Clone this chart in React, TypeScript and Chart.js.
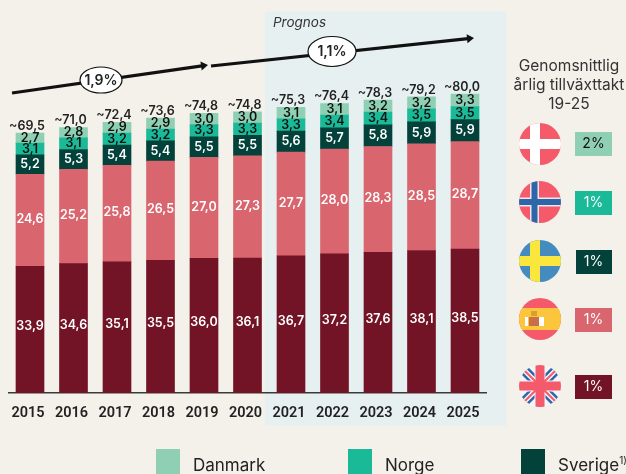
import React, { useEffect, useRef } from "react";
import { Chart, registerables } from "chart.js";

Chart.register(...registerables);

const years = ["2015","2016","2017","2018","2019","2020","2021","2022","2023","2024","2025"];
const uk = [33.9,34.6,35.1,35.5,36.0,36.1,36.7,37.2,37.6,38.1,38.5];
const spain = [24.6,25.2,25.8,26.5,27.0,27.3,27.7,28.0,28.3,28.5,28.7];
const sweden = [5.2,5.3,5.4,5.4,5.5,5.5,5.6,5.7,5.8,5.9,5.9];
const norway = [3.1,3.1,3.2,3.2,3.3,3.3,3.3,3.4,3.4,3.5,3.5];
const denmark = [2.7,2.8,2.9,2.9,3.0,3.0,3.1,3.1,3.2,3.2,3.3];
const totals = ["~69,5","~71,0","~72,4","~73,6","~74,8","~74,8","~75,3","~76,4","~78,3","~79,2","~80,0"];
const growth = ["2%","1%","1%","1%","1%"];
const countries = ["dk","no","se","es","uk"];
const legendNames = ["Danmark","Norge","Sverige"];
const sideTitle = ["Genomsnittlig","årlig tillväxttakt","19-25"];
const cagrLeft = "1,9%";
const cagrRight = "1,1%";
const prognos = "Prognos";

const C = { bg:"#F4F1EA", band:"#E7F0F0", dk:"#8FD0B4", no:"#1ABA98", se:"#02423A", es:"#D9666F", uk:"#731326", ink:"#222222" };
const FONT = "Inter, 'Noto Sans', sans-serif";
const fmt = (v:number) => v.toFixed(1).replace(".", ",");

function arrow(ctx:any,x1:number,y1:number,x2:number,y2:number){
  ctx.save();
  ctx.strokeStyle="#111"; ctx.fillStyle="#111"; ctx.lineWidth=3.2;
  const a=Math.atan2(y2-y1,x2-x1);
  ctx.beginPath(); ctx.moveTo(x1,y1); ctx.lineTo(x2-6*Math.cos(a),y2-6*Math.sin(a)); ctx.stroke();
  ctx.translate(x2,y2); ctx.rotate(a);
  ctx.beginPath(); ctx.moveTo(0,0); ctx.lineTo(-7,-4.5); ctx.lineTo(-7,4.5); ctx.closePath(); ctx.fill();
  ctx.restore();
}
function oval(ctx:any,x:number,y:number,rx:number,ry:number,t:string){
  ctx.save();
  ctx.fillStyle="#fff"; ctx.strokeStyle="#111"; ctx.lineWidth=1.2;
  ctx.beginPath(); ctx.ellipse(x,y,rx,ry,0,0,Math.PI*2); ctx.fill(); ctx.stroke();
  ctx.fillStyle=C.ink; ctx.font=`600 14px ${FONT}`; ctx.textAlign="center"; ctx.textBaseline="middle";
  ctx.fillText(t,x,y+0.5);
  ctx.restore();
}
function cross(ctx:any,x:number,y:number,r:number,bg:string,c1:string,w1:number,c2:string|null,w2:number,ox:number){
  ctx.fillStyle=bg; ctx.fillRect(x-r,y-r,2*r,2*r);
  ctx.fillStyle=c1; ctx.fillRect(x-r,y-w1/2,2*r,w1); ctx.fillRect(x+ox-w1/2,y-r,w1,2*r);
  if(c2){ ctx.fillStyle=c2; ctx.fillRect(x-r,y-w2/2,2*r,w2); ctx.fillRect(x+ox-w2/2,y-r,w2,2*r); }
}
function flag(ctx:any,kind:string,x:number,y:number,r:number){
  ctx.save();
  ctx.beginPath(); ctx.arc(x,y,r,0,Math.PI*2); ctx.clip();
  const red="#F55A6A", blue="#2E66A8";
  if(kind==="dk") cross(ctx,x,y,r,red,"#fff",10,null,0,-5);
  if(kind==="no") cross(ctx,x,y,r,red,"#E8E8F0",9,blue,6,-5.5);
  if(kind==="se") cross(ctx,x,y,r,"#448CC0","#FAE63C",10,null,0,-5);
  if(kind==="es"){
    ctx.fillStyle=red; ctx.fillRect(x-r,y-r,2*r,2*r);
    ctx.fillStyle="#FCC63C"; ctx.fillRect(x-r,y-11,2*r,22);
    ctx.fillStyle="#C8704A"; ctx.fillRect(x-11,y-2,12,9);
    ctx.fillStyle="#fff"; ctx.fillRect(x-15,y-2,3,9); ctx.fillRect(x-1,y-2,5,9);
    ctx.fillStyle="#D9A030"; ctx.fillRect(x-9,y-8,6,5);
  }
  if(kind==="uk"){
    ctx.fillStyle="#F4F4F8"; ctx.fillRect(x-r,y-r,2*r,2*r);
    ctx.strokeStyle=blue; ctx.lineWidth=10;
    ctx.beginPath(); ctx.moveTo(x-r,y-r); ctx.lineTo(x+r,y+r); ctx.moveTo(x+r,y-r); ctx.lineTo(x-r,y+r); ctx.stroke();
    ctx.strokeStyle="#F4F4F8"; ctx.lineWidth=5;
    ctx.beginPath(); ctx.moveTo(x-r,y-r); ctx.lineTo(x+r,y+r); ctx.moveTo(x+r,y-r); ctx.lineTo(x-r,y+r); ctx.stroke();
    ctx.strokeStyle="#F4F4F8"; ctx.lineWidth=11;
    ctx.beginPath(); ctx.moveTo(x-r,y); ctx.lineTo(x+r,y); ctx.moveTo(x,y-r); ctx.lineTo(x,y+r); ctx.stroke();
    ctx.strokeStyle=red; ctx.lineWidth=2;
    ctx.beginPath(); ctx.moveTo(x-r,y-r); ctx.lineTo(x+r,y+r); ctx.moveTo(x+r,y-r); ctx.lineTo(x-r,y+r); ctx.stroke();
    ctx.fillStyle=red; ctx.fillRect(x-r,y-4.5,2*r,9); ctx.fillRect(x-4.5,y-r,9,2*r);
  }
  ctx.restore();
}

const backdrop = {
  id:"backdrop",
  beforeDraw(chart:any){
    const {ctx}=chart; const xs=chart.scales.x;
    ctx.save();
    ctx.fillStyle=C.bg; ctx.fillRect(0,0,chart.width,chart.height);
    const l=xs.getPixelForValue(6)-26, r=xs.getPixelForValue(10)+41.5;
    ctx.fillStyle=C.band; ctx.fillRect(l,11.5,r-l,414);
    ctx.restore();
  }
};

const overlay = {
  id:"overlay",
  afterDatasetsDraw(chart:any){
    const {ctx}=chart;
    ctx.save();
    ctx.textAlign="center"; ctx.textBaseline="middle";
    const inks=["#fff","#fff","#fff","#111","#111"];
    chart.data.datasets.forEach((ds:any,di:number)=>{
      const meta=chart.getDatasetMeta(di);
      meta.data.forEach((el:any,i:number)=>{
        const p=el.getProps(["x","y","base"],true);
        ctx.fillStyle=inks[di];
        ctx.font=`600 12.5px ${FONT}`;
        ctx.fillText(fmt(ds.data[i]),p.x,(p.y+p.base)/2+(di===0?-3:di===1?-1:0));
      });
    });
    const top=chart.getDatasetMeta(chart.data.datasets.length-1);
    ctx.fillStyle=C.ink; ctx.font=`600 12.5px ${FONT}`;
    top.data.forEach((el:any,i:number)=>ctx.fillText(totals[i],el.x-3,el.y-7));
    ctx.restore();

    arrow(ctx,12,93,208,65);
    arrow(ctx,211,66,474,38);
    oval(ctx,101,80,21,13,cagrLeft);
    oval(ctx,332,51.5,24,15,cagrRight);

    ctx.save();
    ctx.fillStyle="#333"; ctx.font=`italic 400 13.5px ${FONT}`; ctx.textAlign="left"; ctx.textBaseline="middle";
    ctx.fillText(prognos,273,22.5);

    ctx.textAlign="center"; ctx.fillStyle="#333"; ctx.font=`400 15.5px ${FONT}`;
    sideTitle.forEach((t,i)=>ctx.fillText(t,569,66+i*19));

    const fy=[144,202,261,319,386];
    const by=[144,203,262,320,387];
    const bc=[C.dk,C.no,C.se,C.es,C.uk];
    const bi=["#111","#fff","#fff","#fff","#fff"];
    countries.forEach((k,i)=>{
      flag(ctx,k,540,fy[i],21);
      ctx.fillStyle=bc[i]; ctx.fillRect(i===2?576:575,by[i]-12,i===2?36:37,24);
      ctx.fillStyle=bi[i]; ctx.font=`400 14px ${FONT}`; ctx.textAlign="center"; ctx.textBaseline="middle";
      ctx.fillText(growth[i],593.5,by[i]);
    });

    const lx=[156,348,521];
    const lc=[C.dk,C.no,C.se];
    legendNames.forEach((n,i)=>{
      ctx.fillStyle=lc[i]; ctx.fillRect(lx[i],449,24,25);
      ctx.fillStyle=C.ink; ctx.font=`400 17px ${FONT}`; ctx.textAlign="left"; ctx.textBaseline="middle";
      ctx.fillText(n,lx[i]+37,466);
      if(i===2){ const w=ctx.measureText(n).width; ctx.font=`400 10px ${FONT}`; ctx.fillText("1)",lx[i]+37+w,461); }
    });
    ctx.restore();
  }
};

export default function App(){
  const ref=useRef<HTMLCanvasElement>(null);
  useEffect(()=>{
    document.body.style.background=C.bg;
    const chart=new Chart(ref.current!,{
      type:"bar",
      data:{labels:years,datasets:[
        {label:"Storbritannien",data:uk,backgroundColor:C.uk,barThickness:28},
        {label:"Spanien",data:spain,backgroundColor:C.es,barThickness:28},
        {label:"Sverige",data:sweden,backgroundColor:C.se,barThickness:28},
        {label:"Norge",data:norway,backgroundColor:C.no,barThickness:28},
        {label:"Danmark",data:denmark,backgroundColor:C.dk,barThickness:28},
      ]},
      options:{
        animation:false,responsive:false,
        layout:{padding:{left:8.25,right:139.25,top:0,bottom:0}},
        plugins:{legend:{display:false},tooltip:{enabled:false}},
        scales:{
          x:{stacked:true,grid:{display:false},border:{color:"#3a3a3a",width:1.5},
            ticks:{color:C.ink,padding:4,labelOffset:-2,maxRotation:0,autoSkip:false,font:{family:"Roboto",size:14.5,weight:"600"}},
            afterFit:(s:any)=>{s.height=81;}},
          y:{stacked:true,display:false,min:0,max:105.08},
        },
      },
      plugins:[backdrop,overlay],
    } as any);
    return ()=>chart.destroy();
  },[]);
  return <canvas ref={ref} width={626} height={474} style={{position:"fixed",left:0,top:0,display:"block",width:626,height:474}}/>;
}
